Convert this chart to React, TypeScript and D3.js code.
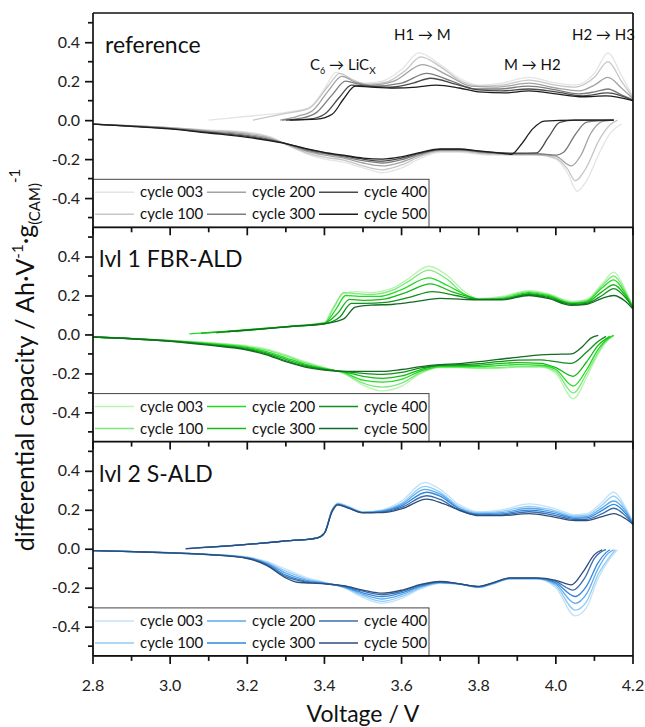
import React, { useEffect, useRef } from 'react';
import * as d3 from 'd3';

type Pt = [number, number];

const CYCLES = ['cycle 003', 'cycle 100', 'cycle 200', 'cycle 300', 'cycle 400', 'cycle 500'];
const PANEL_LABELS = ['reference', 'lvl 1 FBR-ALD', 'lvl 2 S-ALD'];

const GRAY = ['#e4e4e4', '#c6c6c6', '#a2a2a2', '#7c7c7c', '#4a4a4a', '#1c1c1c'];
const GREEN = ['#b8f4b0', '#7ce87a', '#22dc22', '#14bb16', '#10901a', '#136b24'];
const BLUE = ['#c2e2f8', '#92cbf4', '#5ca9ee', '#2d88de', '#3d6cad', '#2d4c78'];

const X_MAJOR = [2.8, 3.0, 3.2, 3.4, 3.6, 3.8, 4.0, 4.2];
const X_MINOR = [2.9, 3.1, 3.3, 3.5, 3.7, 3.9, 4.1];
const Y_MAJOR = [-0.4, -0.2, 0.0, 0.2, 0.4];
const Y_MINOR = [-0.5, -0.3, -0.1, 0.1, 0.3, 0.5];

// reference, charge (upper branch)
const REF_C003: Pt[] = [[3.10,0.0],[3.20,0.02],[3.30,0.04],[3.36,0.065],[3.40,0.16],[3.43,0.245],[3.46,0.22],[3.50,0.19],[3.55,0.2],[3.60,0.26],[3.645,0.345],[3.70,0.285],[3.75,0.215],[3.80,0.18],[3.86,0.19],[3.93,0.22],[4.00,0.19],[4.05,0.18],[4.10,0.24],[4.135,0.345],[4.17,0.23],[4.20,0.12]];
const REF_C100: Pt[] = [[3.215,0.0],[3.30,0.035],[3.36,0.06],[3.41,0.175],[3.44,0.24],[3.47,0.21],[3.51,0.185],[3.56,0.195],[3.61,0.255],[3.65,0.325],[3.70,0.275],[3.75,0.205],[3.80,0.175],[3.86,0.18],[3.93,0.205],[4.00,0.18],[4.05,0.17],[4.10,0.22],[4.135,0.30],[4.17,0.2],[4.20,0.115]];
const REF_C200: Pt[] = [[3.285,0.0],[3.33,0.02],[3.37,0.05],[3.41,0.15],[3.445,0.225],[3.48,0.195],[3.52,0.18],[3.58,0.2],[3.655,0.285],[3.72,0.23],[3.78,0.175],[3.85,0.17],[3.93,0.19],[4.00,0.165],[4.06,0.15],[4.10,0.18],[4.135,0.22],[4.17,0.165],[4.20,0.11]];
const REF_C300: Pt[] = [[3.29,0.0],[3.34,0.01],[3.38,0.04],[3.42,0.13],[3.455,0.2],[3.49,0.185],[3.53,0.175],[3.60,0.19],[3.665,0.24],[3.73,0.2],[3.79,0.16],[3.85,0.16],[3.93,0.175],[4.00,0.155],[4.06,0.135],[4.10,0.145],[4.135,0.16],[4.17,0.13],[4.20,0.105]];
const REF_C400: Pt[] = [[3.30,0.0],[3.36,0.005],[3.40,0.03],[3.44,0.12],[3.47,0.18],[3.51,0.175],[3.57,0.17],[3.63,0.19],[3.675,0.215],[3.74,0.185],[3.80,0.155],[3.86,0.15],[3.93,0.16],[4.00,0.145],[4.07,0.125],[4.135,0.14],[4.20,0.1]];
const REF_C500: Pt[] = [[3.31,0.0],[3.38,0.005],[3.42,0.03],[3.45,0.11],[3.48,0.175],[3.52,0.17],[3.58,0.165],[3.64,0.17],[3.69,0.18],[3.75,0.165],[3.80,0.145],[3.87,0.14],[3.93,0.15],[4.00,0.135],[4.07,0.12],[4.13,0.125],[4.20,0.1]];

// reference, discharge (lower branch)
const REF_D003: Pt[] = [[2.8,-0.02],[2.9,-0.028],[3.0,-0.038],[3.1,-0.05],[3.2,-0.062],[3.26,-0.085],[3.30,-0.125],[3.35,-0.17],[3.40,-0.2],[3.45,-0.215],[3.50,-0.245],[3.55,-0.27],[3.60,-0.245],[3.65,-0.195],[3.70,-0.165],[3.75,-0.165],[3.80,-0.175],[3.85,-0.18],[3.90,-0.18],[3.95,-0.18],[4.00,-0.2],[4.03,-0.27],[4.055,-0.365],[4.08,-0.31],[4.11,-0.18],[4.14,-0.07],[4.17,-0.02]];
const REF_D100: Pt[] = [[2.8,-0.02],[2.9,-0.028],[3.0,-0.039],[3.1,-0.052],[3.2,-0.066],[3.26,-0.09],[3.30,-0.125],[3.35,-0.165],[3.40,-0.19],[3.45,-0.205],[3.50,-0.235],[3.55,-0.255],[3.60,-0.23],[3.65,-0.185],[3.70,-0.16],[3.75,-0.16],[3.80,-0.17],[3.85,-0.175],[3.90,-0.178],[3.95,-0.178],[4.00,-0.195],[4.03,-0.25],[4.05,-0.31],[4.08,-0.24],[4.11,-0.11],[4.14,-0.025],[4.16,0.0]];
const REF_D200: Pt[] = [[2.8,-0.02],[2.9,-0.029],[3.0,-0.04],[3.1,-0.056],[3.2,-0.072],[3.26,-0.095],[3.30,-0.122],[3.35,-0.158],[3.40,-0.18],[3.45,-0.195],[3.50,-0.22],[3.55,-0.235],[3.60,-0.215],[3.65,-0.178],[3.70,-0.155],[3.75,-0.155],[3.80,-0.165],[3.85,-0.172],[3.90,-0.175],[3.95,-0.175],[4.00,-0.185],[4.04,-0.235],[4.065,-0.18],[4.09,-0.07],[4.12,-0.008],[4.15,0.0]];
const REF_D300: Pt[] = [[2.8,-0.02],[2.9,-0.03],[3.0,-0.042],[3.1,-0.06],[3.2,-0.078],[3.26,-0.1],[3.30,-0.12],[3.35,-0.152],[3.40,-0.172],[3.45,-0.188],[3.50,-0.208],[3.55,-0.22],[3.60,-0.203],[3.65,-0.172],[3.70,-0.152],[3.75,-0.152],[3.80,-0.162],[3.85,-0.17],[3.90,-0.172],[3.95,-0.172],[4.00,-0.18],[4.02,-0.165],[4.05,-0.075],[4.08,-0.01],[4.15,0.0]];
const REF_D400: Pt[] = [[2.8,-0.02],[2.9,-0.031],[3.0,-0.043],[3.1,-0.063],[3.2,-0.083],[3.26,-0.103],[3.30,-0.12],[3.35,-0.148],[3.40,-0.168],[3.45,-0.183],[3.50,-0.2],[3.55,-0.21],[3.60,-0.195],[3.65,-0.168],[3.70,-0.15],[3.75,-0.15],[3.80,-0.16],[3.85,-0.167],[3.90,-0.17],[3.95,-0.168],[3.98,-0.09],[4.01,-0.012],[4.05,0.0],[4.15,0.0]];
const REF_D500: Pt[] = [[2.8,-0.02],[2.9,-0.032],[3.0,-0.045],[3.1,-0.066],[3.2,-0.088],[3.26,-0.106],[3.30,-0.12],[3.35,-0.145],[3.40,-0.165],[3.45,-0.18],[3.50,-0.195],[3.55,-0.2],[3.60,-0.188],[3.65,-0.165],[3.70,-0.148],[3.75,-0.148],[3.80,-0.158],[3.85,-0.168],[3.885,-0.175],[3.91,-0.125],[3.94,-0.045],[3.97,-0.005],[4.05,0.0],[4.15,0.0]];

// lvl 1 FBR-ALD, charge
const GRN_C003: Pt[] = [[3.17,0.012],[3.25,0.03],[3.32,0.045],[3.40,0.06],[3.42,0.13],[3.45,0.21],[3.48,0.22],[3.52,0.215],[3.58,0.24],[3.62,0.29],[3.67,0.35],[3.72,0.30],[3.76,0.225],[3.80,0.185],[3.86,0.195],[3.93,0.225],[3.98,0.21],[4.04,0.17],[4.08,0.18],[4.12,0.26],[4.15,0.32],[4.18,0.23],[4.20,0.14]];
const GRN_C100: Pt[] = [[3.12,0.008],[3.20,0.024],[3.30,0.04],[3.40,0.06],[3.425,0.14],[3.45,0.215],[3.48,0.21],[3.52,0.205],[3.58,0.23],[3.62,0.275],[3.67,0.33],[3.72,0.28],[3.76,0.21],[3.80,0.18],[3.86,0.19],[3.93,0.22],[3.98,0.205],[4.04,0.165],[4.08,0.175],[4.12,0.25],[4.15,0.30],[4.18,0.22],[4.20,0.14]];
const GRN_C200: Pt[] = [[3.05,0.003],[3.15,0.017],[3.25,0.032],[3.33,0.045],[3.40,0.058],[3.43,0.13],[3.455,0.2],[3.49,0.195],[3.54,0.195],[3.60,0.23],[3.67,0.29],[3.72,0.25],[3.77,0.2],[3.80,0.18],[3.86,0.185],[3.93,0.215],[3.98,0.2],[4.04,0.16],[4.08,0.17],[4.12,0.24],[4.15,0.28],[4.18,0.21],[4.20,0.14]];
const GRN_C300: Pt[] = [[3.08,0.006],[3.18,0.02],[3.28,0.036],[3.40,0.057],[3.435,0.11],[3.465,0.18],[3.50,0.175],[3.55,0.18],[3.61,0.215],[3.675,0.26],[3.73,0.22],[3.78,0.19],[3.80,0.18],[3.86,0.18],[3.93,0.21],[3.98,0.195],[4.04,0.16],[4.08,0.165],[4.12,0.22],[4.15,0.255],[4.18,0.2],[4.20,0.135]];
const GRN_C400: Pt[] = [[3.12,0.01],[3.22,0.025],[3.32,0.042],[3.40,0.055],[3.44,0.09],[3.47,0.16],[3.50,0.16],[3.56,0.165],[3.62,0.19],[3.68,0.22],[3.74,0.2],[3.80,0.18],[3.86,0.18],[3.93,0.205],[3.98,0.19],[4.04,0.155],[4.08,0.16],[4.12,0.2],[4.15,0.235],[4.18,0.19],[4.20,0.135]];
const GRN_C500: Pt[] = [[3.15,0.014],[3.25,0.03],[3.33,0.044],[3.40,0.055],[3.45,0.08],[3.48,0.14],[3.52,0.15],[3.58,0.155],[3.64,0.17],[3.70,0.185],[3.76,0.18],[3.80,0.178],[3.86,0.178],[3.93,0.2],[3.98,0.185],[4.04,0.15],[4.08,0.155],[4.12,0.185],[4.15,0.2],[4.18,0.17],[4.20,0.13]];

// lvl 1 FBR-ALD, discharge
const GRN_D003: Pt[] = [[2.8,-0.013],[2.9,-0.02],[3.0,-0.03],[3.1,-0.042],[3.2,-0.058],[3.25,-0.075],[3.30,-0.105],[3.35,-0.14],[3.40,-0.17],[3.45,-0.2],[3.50,-0.26],[3.55,-0.29],[3.60,-0.265],[3.65,-0.2],[3.70,-0.17],[3.75,-0.17],[3.80,-0.175],[3.85,-0.175],[3.90,-0.168],[3.96,-0.168],[4.00,-0.2],[4.045,-0.33],[4.08,-0.22],[4.11,-0.1],[4.13,-0.04],[4.15,-0.005]];
const GRN_D100: Pt[] = [[2.8,-0.013],[2.9,-0.02],[3.0,-0.031],[3.1,-0.044],[3.2,-0.062],[3.25,-0.08],[3.30,-0.11],[3.35,-0.145],[3.40,-0.172],[3.45,-0.198],[3.50,-0.25],[3.55,-0.27],[3.60,-0.25],[3.65,-0.195],[3.70,-0.168],[3.75,-0.168],[3.80,-0.172],[3.85,-0.17],[3.90,-0.165],[3.96,-0.165],[4.00,-0.19],[4.045,-0.3],[4.08,-0.2],[4.11,-0.09],[4.13,-0.035],[4.15,-0.005]];
const GRN_D200: Pt[] = [[2.8,-0.013],[2.9,-0.021],[3.0,-0.032],[3.1,-0.047],[3.2,-0.067],[3.25,-0.088],[3.30,-0.12],[3.35,-0.152],[3.40,-0.175],[3.45,-0.195],[3.50,-0.235],[3.55,-0.245],[3.60,-0.23],[3.65,-0.188],[3.70,-0.165],[3.75,-0.165],[3.80,-0.165],[3.85,-0.16],[3.90,-0.155],[3.96,-0.158],[4.00,-0.18],[4.045,-0.265],[4.08,-0.18],[4.11,-0.075],[4.14,-0.015],[4.15,-0.005]];
const GRN_D300: Pt[] = [[2.8,-0.013],[2.9,-0.021],[3.0,-0.033],[3.1,-0.05],[3.2,-0.072],[3.25,-0.095],[3.30,-0.128],[3.35,-0.158],[3.40,-0.178],[3.45,-0.192],[3.50,-0.215],[3.55,-0.225],[3.60,-0.213],[3.65,-0.18],[3.70,-0.16],[3.75,-0.16],[3.80,-0.158],[3.85,-0.15],[3.90,-0.145],[3.96,-0.148],[4.00,-0.17],[4.045,-0.215],[4.08,-0.14],[4.11,-0.055],[4.14,-0.01]];
const GRN_D400: Pt[] = [[2.8,-0.013],[2.9,-0.022],[3.0,-0.034],[3.1,-0.052],[3.2,-0.076],[3.25,-0.1],[3.30,-0.135],[3.35,-0.163],[3.40,-0.18],[3.45,-0.19],[3.50,-0.2],[3.55,-0.205],[3.60,-0.195],[3.65,-0.172],[3.70,-0.158],[3.75,-0.155],[3.80,-0.15],[3.85,-0.14],[3.90,-0.132],[3.96,-0.13],[4.00,-0.14],[4.04,-0.148],[4.08,-0.09],[4.11,-0.035],[4.13,-0.01]];
const GRN_D500: Pt[] = [[2.8,-0.013],[2.9,-0.022],[3.0,-0.035],[3.1,-0.055],[3.2,-0.08],[3.25,-0.105],[3.30,-0.14],[3.35,-0.168],[3.40,-0.183],[3.45,-0.19],[3.50,-0.19],[3.55,-0.19],[3.60,-0.18],[3.65,-0.165],[3.70,-0.155],[3.75,-0.15],[3.80,-0.14],[3.85,-0.128],[3.90,-0.118],[3.96,-0.105],[4.00,-0.102],[4.04,-0.1],[4.07,-0.06],[4.09,-0.02],[4.11,-0.005]];

// lvl 2 S-ALD, charge
const BLU_C003: Pt[] = [[3.13,0.01],[3.20,0.022],[3.30,0.04],[3.38,0.055],[3.40,0.08],[3.42,0.2],[3.435,0.235],[3.46,0.22],[3.50,0.19],[3.55,0.2],[3.60,0.245],[3.66,0.34],[3.70,0.305],[3.75,0.225],[3.80,0.19],[3.86,0.2],[3.93,0.23],[3.99,0.21],[4.05,0.175],[4.08,0.18],[4.12,0.24],[4.15,0.29],[4.18,0.215],[4.20,0.135]];
const BLU_C100: Pt[] = [[3.11,0.008],[3.20,0.022],[3.30,0.04],[3.38,0.055],[3.40,0.08],[3.42,0.2],[3.435,0.232],[3.46,0.218],[3.50,0.188],[3.55,0.197],[3.60,0.235],[3.66,0.32],[3.70,0.29],[3.75,0.215],[3.80,0.185],[3.86,0.192],[3.93,0.218],[3.99,0.2],[4.05,0.168],[4.08,0.172],[4.12,0.225],[4.15,0.27],[4.18,0.205],[4.20,0.132]];
const BLU_C200: Pt[] = [[3.09,0.006],[3.20,0.022],[3.30,0.04],[3.38,0.055],[3.40,0.08],[3.42,0.198],[3.435,0.23],[3.46,0.215],[3.50,0.186],[3.55,0.194],[3.60,0.228],[3.66,0.305],[3.70,0.28],[3.75,0.208],[3.80,0.18],[3.86,0.185],[3.93,0.208],[3.99,0.192],[4.05,0.162],[4.08,0.165],[4.12,0.21],[4.15,0.245],[4.18,0.195],[4.20,0.13]];
const BLU_C300: Pt[] = [[3.07,0.004],[3.20,0.022],[3.30,0.04],[3.38,0.055],[3.40,0.08],[3.42,0.196],[3.435,0.228],[3.46,0.213],[3.50,0.185],[3.55,0.191],[3.60,0.22],[3.665,0.29],[3.70,0.27],[3.75,0.203],[3.80,0.176],[3.86,0.179],[3.93,0.198],[3.99,0.183],[4.05,0.156],[4.08,0.158],[4.12,0.197],[4.15,0.228],[4.18,0.183],[4.20,0.128]];
const BLU_C400: Pt[] = [[3.05,0.002],[3.20,0.022],[3.30,0.04],[3.38,0.055],[3.40,0.08],[3.42,0.194],[3.435,0.226],[3.46,0.211],[3.50,0.185],[3.55,0.188],[3.60,0.212],[3.665,0.272],[3.70,0.253],[3.75,0.197],[3.80,0.173],[3.86,0.174],[3.93,0.19],[3.99,0.174],[4.05,0.15],[4.08,0.151],[4.12,0.18],[4.15,0.208],[4.18,0.17],[4.20,0.126]];
const BLU_C500: Pt[] = [[3.04,0.0],[3.20,0.022],[3.30,0.04],[3.38,0.055],[3.40,0.08],[3.42,0.19],[3.435,0.225],[3.46,0.21],[3.50,0.185],[3.55,0.185],[3.60,0.205],[3.665,0.255],[3.71,0.23],[3.76,0.19],[3.80,0.17],[3.86,0.17],[3.93,0.18],[3.99,0.165],[4.05,0.145],[4.08,0.145],[4.12,0.165],[4.15,0.18],[4.18,0.155],[4.20,0.125]];

// lvl 2 S-ALD, discharge
const BLU_D003: Pt[] = [[2.8,-0.01],[2.9,-0.014],[3.0,-0.02],[3.1,-0.028],[3.2,-0.042],[3.25,-0.065],[3.30,-0.105],[3.35,-0.145],[3.40,-0.172],[3.45,-0.2],[3.50,-0.25],[3.55,-0.28],[3.60,-0.255],[3.65,-0.205],[3.70,-0.178],[3.75,-0.182],[3.80,-0.2],[3.84,-0.18],[3.88,-0.155],[3.95,-0.155],[4.00,-0.2],[4.05,-0.345],[4.08,-0.3],[4.11,-0.15],[4.14,-0.05],[4.16,-0.005]];
const BLU_D100: Pt[] = [[2.8,-0.01],[2.9,-0.014],[3.0,-0.02],[3.1,-0.029],[3.2,-0.044],[3.25,-0.07],[3.30,-0.115],[3.35,-0.153],[3.40,-0.174],[3.45,-0.198],[3.50,-0.242],[3.55,-0.27],[3.60,-0.245],[3.65,-0.2],[3.70,-0.176],[3.75,-0.181],[3.80,-0.198],[3.84,-0.178],[3.88,-0.154],[3.95,-0.154],[4.00,-0.19],[4.05,-0.315],[4.08,-0.27],[4.11,-0.13],[4.14,-0.04],[4.155,-0.005]];
const BLU_D200: Pt[] = [[2.8,-0.01],[2.9,-0.014],[3.0,-0.02],[3.1,-0.029],[3.2,-0.046],[3.25,-0.074],[3.30,-0.125],[3.35,-0.16],[3.40,-0.176],[3.45,-0.196],[3.50,-0.234],[3.55,-0.258],[3.60,-0.236],[3.65,-0.195],[3.70,-0.174],[3.75,-0.181],[3.80,-0.197],[3.84,-0.176],[3.88,-0.153],[3.95,-0.153],[4.00,-0.182],[4.05,-0.28],[4.08,-0.23],[4.11,-0.1],[4.135,-0.025],[4.15,-0.005]];
const BLU_D300: Pt[] = [[2.8,-0.01],[2.9,-0.015],[3.0,-0.021],[3.1,-0.03],[3.2,-0.047],[3.25,-0.078],[3.30,-0.135],[3.35,-0.166],[3.40,-0.178],[3.45,-0.194],[3.50,-0.226],[3.55,-0.246],[3.60,-0.226],[3.65,-0.19],[3.70,-0.172],[3.75,-0.18],[3.80,-0.196],[3.84,-0.175],[3.88,-0.152],[3.95,-0.152],[4.00,-0.175],[4.05,-0.245],[4.08,-0.19],[4.11,-0.07],[4.13,-0.02],[4.14,-0.005]];
const BLU_D400: Pt[] = [[2.8,-0.01],[2.9,-0.015],[3.0,-0.021],[3.1,-0.03],[3.2,-0.048],[3.25,-0.082],[3.30,-0.143],[3.35,-0.17],[3.40,-0.179],[3.45,-0.192],[3.50,-0.218],[3.55,-0.236],[3.60,-0.219],[3.65,-0.186],[3.70,-0.17],[3.75,-0.18],[3.80,-0.194],[3.84,-0.173],[3.88,-0.151],[3.95,-0.151],[4.00,-0.168],[4.045,-0.212],[4.075,-0.15],[4.10,-0.05],[4.12,-0.012],[4.13,-0.005]];
const BLU_D500: Pt[] = [[2.8,-0.01],[2.9,-0.015],[3.0,-0.021],[3.1,-0.03],[3.2,-0.05],[3.25,-0.085],[3.30,-0.15],[3.33,-0.172],[3.40,-0.18],[3.45,-0.19],[3.50,-0.212],[3.55,-0.228],[3.60,-0.213],[3.65,-0.183],[3.70,-0.168],[3.75,-0.18],[3.80,-0.193],[3.84,-0.172],[3.88,-0.15],[3.95,-0.15],[4.00,-0.162],[4.04,-0.185],[4.07,-0.12],[4.10,-0.03],[4.12,-0.005]];

const PANELS = [
  { label: PANEL_LABELS[0], colors: GRAY, charge: [REF_C003, REF_C100, REF_C200, REF_C300, REF_C400, REF_C500], discharge: [REF_D003, REF_D100, REF_D200, REF_D300, REF_D400, REF_D500] },
  { label: PANEL_LABELS[1], colors: GREEN, charge: [GRN_C003, GRN_C100, GRN_C200, GRN_C300, GRN_C400, GRN_C500], discharge: [GRN_D003, GRN_D100, GRN_D200, GRN_D300, GRN_D400, GRN_D500] },
  { label: PANEL_LABELS[2], colors: BLUE, charge: [BLU_C003, BLU_C100, BLU_C200, BLU_C300, BLU_C400, BLU_C500], discharge: [BLU_D003, BLU_D100, BLU_D200, BLU_D300, BLU_D400, BLU_D500] },
];

const WIDTH = 645;
const HEIGHT = 727;
const LEFT = 93;
const RIGHT = 633;
const TOP = 13;
const PANEL_H = 214.3;
const FONT = 'Lato, "Open Sans", sans-serif';

const App: React.FC = () => {
  const svgRef = useRef<SVGSVGElement | null>(null);

  useEffect(() => {
    document.body.style.margin = '0';
    if (!svgRef.current) return;
    const svg = d3.select(svgRef.current);
    svg.selectAll('*').remove();

    const x = d3.scaleLinear().domain([2.8, 4.2]).range([LEFT, RIGHT]);
    const bottom = TOP + 3 * PANEL_H;

    PANELS.forEach((p, i) => {
      const top = TOP + i * PANEL_H;
      const y = d3.scaleLinear().domain([-0.55, 0.55]).range([top + PANEL_H, top]);
      const g = svg.append('g');

      const line = d3
        .line<Pt>()
        .x((d) => x(d[0]))
        .y((d) => y(d[1]))
        .curve(d3.curveMonotoneX);

      // curves, lightest first so darker cycles are on top
      p.colors.forEach((c, k) => {
        [p.charge[k], p.discharge[k]].forEach((pts) => {
          g.append('path')
            .attr('d', line(pts) || '')
            .attr('fill', 'none')
            .attr('stroke', c)
            .attr('stroke-width', 1.3);
        });
      });

      // y axis, ticks outward
      const yAxis = d3
        .axisLeft(y)
        .tickValues(Y_MAJOR)
        .tickSize(8)
        .tickFormat((d) => (d as number).toFixed(1));
      const ya = svg.append('g').attr('transform', `translate(${LEFT},0)`).call(yAxis);
      ya.select('.domain').remove();
      ya.selectAll('text').attr('font-family', FONT).attr('font-size', 16).attr('fill', '#222').attr('dx', -2);
      ya.selectAll('line').attr('stroke', '#111').attr('stroke-width', 1.7);
      Y_MINOR.forEach((v) => {
        svg.append('line').attr('x1', LEFT - 5).attr('x2', LEFT).attr('y1', y(v)).attr('y2', y(v)).attr('stroke', '#111').attr('stroke-width', 1.7);
      });

      // x ticks hanging down from each panel's bottom edge
      const yb = top + PANEL_H;
      X_MAJOR.forEach((v) => {
        svg.append('line').attr('x1', x(v)).attr('x2', x(v)).attr('y1', yb).attr('y2', yb + 8).attr('stroke', '#111').attr('stroke-width', 1.7);
      });
      X_MINOR.forEach((v) => {
        svg.append('line').attr('x1', x(v)).attr('x2', x(v)).attr('y1', yb).attr('y2', yb + 5).attr('stroke', '#111').attr('stroke-width', 1.7);
      });

      // legend
      const lg = svg.append('g');
      lg.append('rect')
        .attr('x', LEFT)
        .attr('y', yb - 48)
        .attr('width', 336)
        .attr('height', 48)
        .attr('fill', 'white')
        .attr('stroke', '#444')
        .attr('stroke-width', 1);
      CYCLES.forEach((name, k) => {
        const col = Math.floor(k / 2);
        const row = k % 2;
        const lx = LEFT + 2 + col * 112;
        const ly = yb - 35 + row * 22;
        lg.append('line').attr('x1', lx).attr('x2', lx + 39).attr('y1', ly).attr('y2', ly).attr('stroke', p.colors[k]).attr('stroke-width', 1.5);
        lg.append('text')
          .attr('x', lx + 45)
          .attr('y', ly + 5)
          .attr('font-family', FONT)
          .attr('font-size', 15)
          .attr('fill', '#111')
          .text(name);
      });

      // panel label
      svg.append('text')
        .attr('x', i === 0 ? 105 : 99)
        .attr('y', top + 40)
        .attr('font-family', FONT)
        .attr('font-size', 23)
        .attr('fill', '#111')
        .text(p.label);

      // panel separator
      svg.append('line').attr('x1', LEFT).attr('x2', RIGHT).attr('y1', yb).attr('y2', yb).attr('stroke', '#111').attr('stroke-width', 1.7);
    });

    // frame
    svg.append('line').attr('x1', LEFT).attr('x2', RIGHT).attr('y1', TOP).attr('y2', TOP).attr('stroke', '#111').attr('stroke-width', 1.7);
    svg.append('line').attr('x1', LEFT).attr('x2', LEFT).attr('y1', TOP).attr('y2', bottom).attr('stroke', '#111').attr('stroke-width', 1.7);
    svg.append('line').attr('x1', RIGHT).attr('x2', RIGHT).attr('y1', TOP).attr('y2', bottom).attr('stroke', '#111').attr('stroke-width', 1.7);

    // x tick labels
    X_MAJOR.forEach((v) => {
      svg.append('text')
        .attr('x', x(v))
        .attr('y', bottom + 35)
        .attr('text-anchor', 'middle')
        .attr('font-family', FONT)
        .attr('font-size', 16)
        .attr('fill', '#222')
        .text(v.toFixed(1));
    });

    // axis titles
    svg.append('text')
      .attr('x', (LEFT + RIGHT) / 2)
      .attr('y', 722)
      .attr('text-anchor', 'middle')
      .attr('font-family', FONT)
      .attr('font-size', 23)
      .attr('fill', '#111')
      .text('Voltage / V');

    const yt = svg.append('text')
      .attr('transform', 'translate(34,360) rotate(-90)')
      .attr('text-anchor', 'middle')
      .attr('font-family', FONT)
      .attr('font-size', 25)
      .attr('fill', '#111');
    yt.append('tspan').text('differential capacity / Ah·V');
    yt.append('tspan').attr('font-size', 15).attr('dy', -11).text('-1');
    yt.append('tspan').attr('dy', 11).text('·g');
    yt.append('tspan').attr('font-size', 15).attr('dy', 6).text('(CAM)');
    yt.append('tspan').attr('font-size', 15).attr('dy', -20).text('-1');

    // phase annotations in the reference panel
    const ann = (tx: number, ty: number, s: string) =>
      svg.append('text').attr('x', tx).attr('y', ty).attr('font-family', FONT).attr('font-size', 15).attr('fill', '#111').text(s);
    ann(394, 40, 'H1 → M');
    ann(572, 40, 'H2 → H3');
    ann(504, 70, 'M → H2');
    const c6 = ann(310, 70, 'C');
    c6.append('tspan').attr('font-size', 9).attr('dy', 4).text('6');
    c6.append('tspan').attr('dy', -4).text(' → LiC');
    c6.append('tspan').attr('font-size', 10).attr('dy', 4).text('X');
  }, []);

  return <svg ref={svgRef} width={WIDTH} height={HEIGHT} style={{ display: 'block', background: 'white' }} />;
};

export default App;
